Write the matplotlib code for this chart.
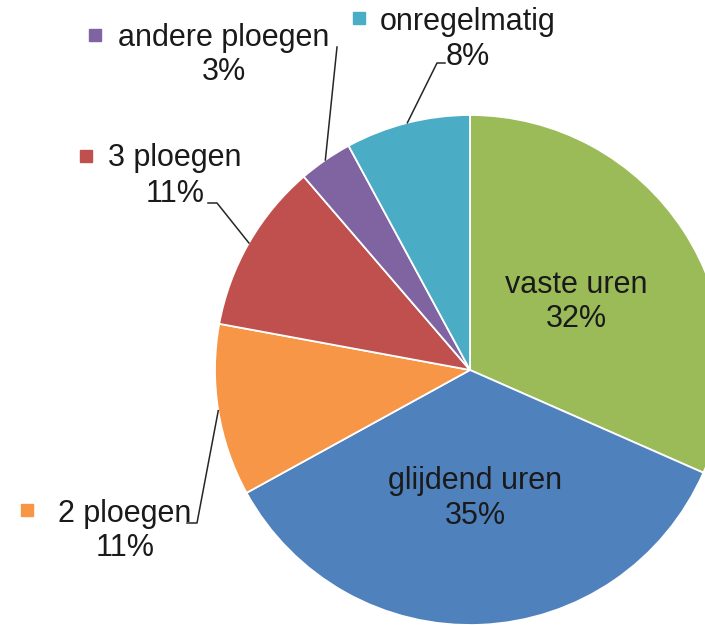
import numpy as np
import matplotlib.pyplot as plt

# data
categories = ['vaste uren', 'glijdend uren', '2 ploegen', '3 ploegen', 'andere ploegen', 'onregelmatig']
shares = [31.6, 35.4, 10.9, 10.8, 3.4, 7.9]
colors = ['#9BBB59', '#4F81BD', '#F79646', '#C0504D', '#8064A2', '#4BACC6']

# layout in pixel coords (y downwards): text centre x, baseline line 1, baseline line 2
label_pos = [(576, 293, 327), (475, 489, 524), (125, 522, 556),
             (175, 166, 202), (224, 46, 80), (468, 30, 65)]
key_pos = [None, None, (27, 510), (86, 156), (95, 35), (359, 18)]
leader_pts = [None, None, [(197, 523), (187, 523)], [(217, 203), (208, 203)],
              [(337, 47)], [(437, 63), (445, 63)]]
center = (470, 370)
radius = 255

fig = plt.figure(figsize=(7.05, 6.25), dpi=100)
ax = fig.add_axes([0, 0, 1, 1])
# y axis runs downwards, so counterclock in data = clockwise on screen
wedges, _ = ax.pie(shares, colors=colors, startangle=-90, counterclock=True,
                   center=center, radius=radius,
                   wedgeprops=dict(edgecolor='white', linewidth=1.3))
ax.set_xlim(0, 705)
ax.set_ylim(625, 0)
ax.axis('off')

txt = dict(ha='center', va='baseline', fontsize=22, family='Liberation Sans', color='#1a1a1a')
for i, w in enumerate(wedges):
    cx, b1, b2 = label_pos[i]
    ax.text(cx, b1, categories[i], **txt)
    ax.text(cx, b2, f"{shares[i]:.0f}%", **txt)
    if key_pos[i] is not None:
        ax.plot(*key_pos[i], marker='s', ms=8, color=colors[i], linestyle='none')
    if leader_pts[i] is not None:
        mid = np.deg2rad((w.theta1 + w.theta2) / 2)
        rx = center[0] + radius * np.cos(mid)
        ry = center[1] + radius * np.sin(mid)
        xs = [rx] + [p[0] for p in leader_pts[i]]
        ys = [ry] + [p[1] for p in leader_pts[i]]
        ax.plot(xs, ys, color='#262626', lw=1.1)

fig.savefig('out.png', dpi=100)
